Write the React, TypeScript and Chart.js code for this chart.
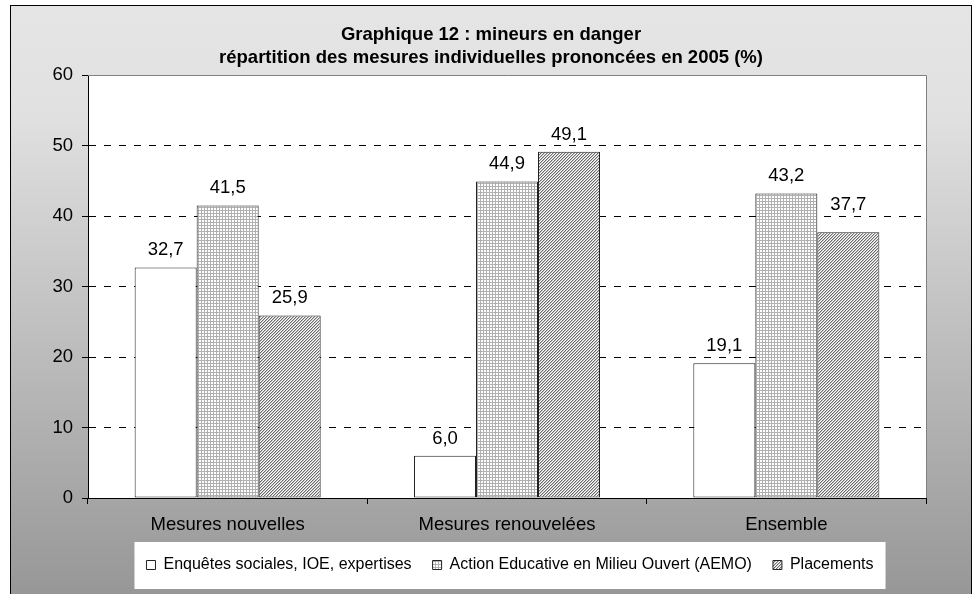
import React, { useEffect, useRef } from 'react';
import { Chart, registerables } from 'chart.js';

Chart.register(...registerables);

const categories = ['Mesures nouvelles', 'Mesures renouvelées', 'Ensemble'];
const seriesNames = [
  'Enquêtes sociales, IOE, expertises',
  'Action Educative en Milieu Ouvert (AEMO)',
  'Placements',
];
const enquetes = [32.7, 6.0, 19.1];
const aemo = [41.5, 44.9, 43.2];
const placements = [25.9, 49.1, 37.7];
const yTicks = [0, 10, 20, 30, 40, 50, 60];
const titleLines = [
  'Graphique 12 : mineurs en danger',
  'répartition des mesures individuelles prononcées en 2005 (%)',
];

const FONT = "'Liberation Sans', Arial, sans-serif";
// extra lift (px) for data labels that were moved up in the original (dataset-index)
const LABEL_NUDGE: Record<string, number> = { '2-2': 10 };

function makeGridPattern(ctx: CanvasRenderingContext2D) {
  const c = document.createElement('canvas');
  c.width = 3;
  c.height = 3;
  const g = c.getContext('2d')!;
  g.fillStyle = '#ffffff';
  g.fillRect(0, 0, 3, 3);
  g.fillStyle = '#b0b0b0';
  g.fillRect(0, 0, 3, 1);
  g.fillRect(0, 0, 1, 3);
  return ctx.createPattern(c, 'repeat')!;
}

function makeHatchPattern(ctx: CanvasRenderingContext2D) {
  const c = document.createElement('canvas');
  c.width = 3;
  c.height = 3;
  const g = c.getContext('2d')!;
  g.fillStyle = '#ffffff';
  g.fillRect(0, 0, 3, 3);
  for (let y = 0; y < 3; y++) {
    for (let x = 0; x < 3; x++) {
      const k = (x + y) % 3;
      if (k === 0) {
        g.fillStyle = '#6a6a6a';
        g.fillRect(x, y, 1, 1);
      } else if (k === 1) {
        g.fillStyle = '#c4c4c4';
        g.fillRect(x, y, 1, 1);
      }
    }
  }
  return ctx.createPattern(c, 'repeat')!;
}

export default function App() {
  const ref = useRef<HTMLCanvasElement | null>(null);

  useEffect(() => {
    const canvas = ref.current!;
    const ctx = canvas.getContext('2d')!;
    const gridPat = makeGridPattern(ctx);
    const hatchPat = makeHatchPattern(ctx);

    const frame = {
      id: 'frame',
      beforeDraw(chart: any) {
        const c = chart.ctx;
        const H = chart.height;
        c.save();
        const grad = c.createLinearGradient(0, 5, 0, H);
        grad.addColorStop(0, '#e5e5e5');
        grad.addColorStop(0.18, '#e1e1e1');
        grad.addColorStop(1, '#979797');
        c.fillStyle = grad;
        c.fillRect(10, 5, 962, H);
        c.strokeStyle = '#000';
        c.lineWidth = 1;
        c.strokeRect(10.5, 5.5, 961, H + 10);
        const a = chart.chartArea;
        c.fillStyle = '#ffffff';
        c.fillRect(a.left, a.top, a.right - a.left, a.bottom - a.top);
        const lg = chart.legend;
        if (lg && lg.legendHitBoxes && lg.legendHitBoxes.length) {
          const hb = lg.legendHitBoxes;
          const l = hb[0].left - 12;
          const r = hb[hb.length - 1].left + hb[hb.length - 1].width + 12;
          const cy = hb[0].top + hb[0].height / 2;
          c.fillStyle = '#ffffff';
          c.fillRect(l, cy - 23, r - l, 47);
        }
        c.fillStyle = '#000';
        c.font = `bold 18.5px ${FONT}`;
        c.textAlign = 'center';
        c.textBaseline = 'middle';
        c.fillText(titleLines[0], 491, 35);
        c.fillText(titleLines[1], 491, 58);
        c.restore();
      },
      beforeDatasetsDraw(chart: any) {
        const c = chart.ctx;
        const a = chart.chartArea;
        c.save();
        c.strokeStyle = '#808080';
        c.lineWidth = 1;
        c.beginPath();
        c.moveTo(a.left, Math.round(a.top) + 0.5);
        c.lineTo(Math.round(a.right) + 0.5, Math.round(a.top) + 0.5);
        c.lineTo(Math.round(a.right) + 0.5, a.bottom);
        c.stroke();
        c.restore();
      },
      afterDatasetsDraw(chart: any) {
        const c = chart.ctx;
        c.save();
        c.fillStyle = '#000';
        c.font = `18.5px ${FONT}`;
        c.textAlign = 'center';
        c.textBaseline = 'alphabetic';
        chart.data.datasets.forEach((ds: any, i: number) => {
          const meta = chart.getDatasetMeta(i);
          meta.data.forEach((el: any, j: number) => {
            const v = ds.data[j] as number;
            const lift = LABEL_NUDGE[`${i}-${j}`] || 0;
            c.fillText(v.toFixed(1).replace('.', ','), el.x, el.y - 12 - lift);
          });
        });
        c.restore();
      },
      afterUpdate(chart: any) {
        const lg = chart.legend;
        if (!lg || !lg.legendHitBoxes || !lg.legendHitBoxes.length) return;
        const hb = lg.legendHitBoxes;
        const l = hb[0].left;
        const r = hb[hb.length - 1].left + hb[hb.length - 1].width;
        const dx = 510 - (l + r) / 2;
        lg.left += dx;
        lg.right += dx;
        hb.forEach((h: any) => (h.left += dx));
      },
    };

    const chart = new Chart(canvas, {
      type: 'bar',
      data: {
        labels: categories,
        datasets: [
          { label: seriesNames[0], data: enquetes, backgroundColor: '#ffffff' },
          { label: seriesNames[1], data: aemo, backgroundColor: gridPat as any },
          { label: seriesNames[2], data: placements, backgroundColor: hatchPat as any },
        ].map((d) => ({
          ...d,
          borderColor: '#222222',
          borderWidth: 1,
          borderSkipped: false,
          categoryPercentage: 0.666,
          barPercentage: 1,
        })),
      },
      options: {
        responsive: false,
        animation: false,
        devicePixelRatio: 1,
        events: [],
        layout: { padding: { left: 20, right: 50, top: 75, bottom: 11 } },
        plugins: {
          title: { display: false },
          tooltip: { enabled: false },
          legend: {
            display: true,
            position: 'bottom',
            labels: {
              boxWidth: 9,
              boxHeight: 9,
              padding: 21,
              color: '#000',
              font: { family: FONT, size: 16 },
            },
          },
        },
        scales: {
          x: {
            grid: {
              offset: true,
              drawOnChartArea: false,
              tickLength: 6,
              tickColor: '#000',
              color: '#000',
            },
            border: { display: true, color: '#000', width: 1 },
            ticks: {
              color: '#000',
              padding: 10,
              font: { family: FONT, size: 18.5 },
              maxRotation: 0,
            },
            afterFit(scale: any) {
              scale.height = 38;
            },
          },
          y: {
            min: 0,
            max: 60,
            afterBuildTicks(scale: any) {
              scale.ticks = yTicks.map((v) => ({ value: v }));
            },
            afterFit(scale: any) {
              scale.width = 68;
            },
            grid: {
              color: (c: any) =>
                c.tick && (c.tick.value === 0 || c.tick.value === 60) ? 'rgba(0,0,0,0)' : '#000',
              tickBorderDash: [],
              tickColor: '#000',
              tickLength: 6,
            },
            border: { display: true, color: '#000', width: 1, dash: [7, 8] },
            ticks: {
              color: '#000',
              padding: 9,
              font: { family: FONT, size: 18.5 },
            },
          },
        },
      },
      plugins: [frame],
    } as any);

    return () => chart.destroy();
  }, []);

  return (
    <div style={{ position: 'absolute', left: 0, top: 0, width: 976, height: 594 }}>
      <canvas ref={ref} width={976} height={594} style={{ display: 'block' }} />
    </div>
  );
}
